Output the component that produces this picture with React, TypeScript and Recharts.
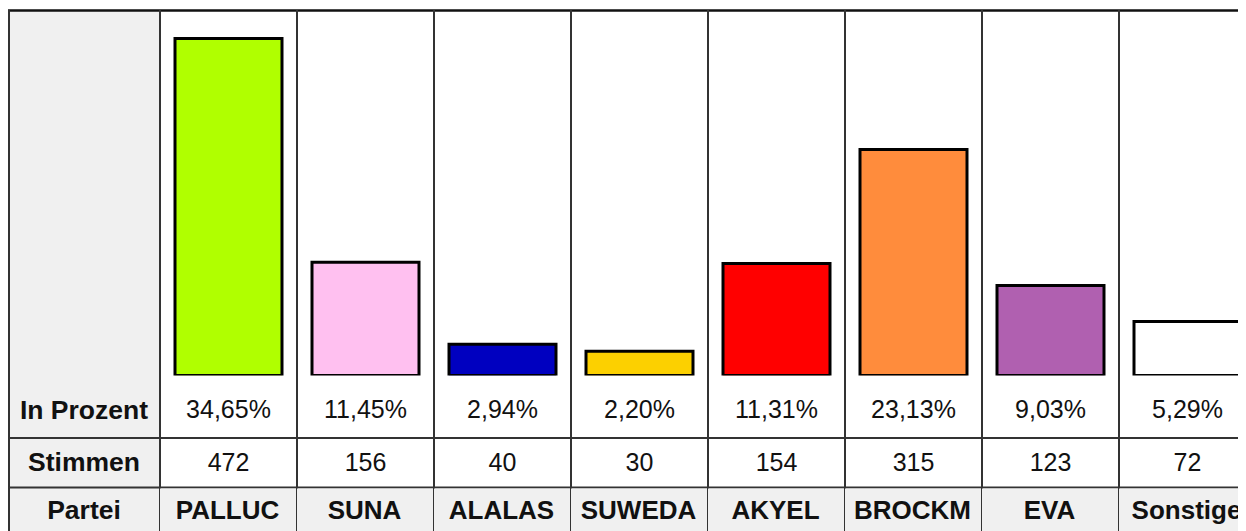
import React from 'react'
import { Bar, BarChart, Cell, Customized, XAxis, YAxis } from 'recharts'

const parties = ['PALLUC', 'SUNA', 'ALALAS', 'SUWEDA', 'AKYEL', 'BROCKM', 'EVA', 'Sonstige']
const percents = [34.65, 11.45, 2.94, 2.2, 11.31, 23.13, 9.03, 5.29]
const percentLabels = ['34,65%', '11,45%', '2,94%', '2,20%', '11,31%', '23,13%', '9,03%', '5,29%']
const votes = [472, 156, 40, 30, 154, 315, 123, 72]
const colors = ['#b0ff00', '#ffc0f0', '#0000c0', '#fcd000', '#ff0000', '#ff8c3c', '#b060b0', '#ffffff']
const rowLabels = ['In Prozent', 'Stimmen', 'Partei']

// bars start a little below zero so their outline sits on the row line
const BASE = -0.314

const data = parties.map((name, i) => ({
  name,
  pct: percents[i],
  label: percentLabels[i],
  votes: votes[i],
}))

const W = 1250
const H = 540
const LEFT = 152
const COL = 137
const AXIS_H = 10
const PLOT_TOP = 18.5
const PLOT_BOTTOM = 367.5
const LINE = '#333'
const GRAY = '#f0f0f0'
const FONT = 'Arial, "Liberation Sans", sans-serif'

const ColumnTick = (props: any) => {
  const { x, payload } = props
  const d = data[payload.index]
  const x0 = x - COL / 2
  const x1 = x + COL / 2
  return (
    <g>
      <rect x={x0} y={480.5} width={COL} height={H - 480} fill={GRAY} />
      <line x1={x1} y1={2} x2={x1} y2={H} stroke={LINE} strokeWidth={2} />
      <text x={x} y={410} textAnchor="middle" fontFamily={FONT} fontSize={25} fill="#111">
        {d.label}
      </text>
      <text x={x} y={463} textAnchor="middle" fontFamily={FONT} fontSize={25} fill="#111">
        {d.votes}
      </text>
      <text x={x - 1} y={511} textAnchor="middle" fontFamily={FONT} fontSize={26} fontWeight="bold" fill="#111">
        {d.name}
      </text>
    </g>
  )
}

const TableFrame = () => (
  <g>
    <rect x={1} y={2} width={LEFT - 1} height={H} fill={GRAY} />
    <line x1={0} y1={2.5} x2={W} y2={2.5} stroke="#111" strokeWidth={2.5} />
    <line x1={1} y1={2} x2={1} y2={H} stroke={LINE} strokeWidth={2} />
    <line x1={LEFT} y1={2} x2={LEFT} y2={H} stroke={LINE} strokeWidth={2} />
    <line x1={0} y1={430} x2={W} y2={430} stroke={LINE} strokeWidth={2} />
    <line x1={0} y1={479.5} x2={W} y2={479.5} stroke={LINE} strokeWidth={2} />
    {rowLabels.map((t, i) => (
      <text key={t} x={LEFT / 2} y={[411, 463, 511][i]} textAnchor="middle" fontFamily={FONT}
        fontSize={26.5} fontWeight="bold" fill="#111">
        {t}
      </text>
    ))}
  </g>
)

export default function App() {
  return (
    <div style={{ width: 1238, height: 523, overflow: 'hidden' }}>
      <BarChart
        width={W}
        height={H}
        data={data}
        margin={{
          top: PLOT_TOP,
          right: W - LEFT - COL * parties.length,
          bottom: H - PLOT_BOTTOM - AXIS_H,
          left: LEFT,
        }}
        barCategoryGap={15}
      >
        <Customized component={TableFrame} />
        <XAxis dataKey="name" axisLine={false} tickLine={false} tick={<ColumnTick />} interval={0} height={AXIS_H} />
        <YAxis hide domain={[BASE, 35.9]} allowDataOverflow />
        <Bar dataKey={(d: any) => [BASE, d.pct]} stroke="#000" strokeWidth={3} isAnimationActive={false}>
          {data.map((d, i) => (
            <Cell key={d.name} fill={colors[i]} />
          ))}
        </Bar>
      </BarChart>
    </div>
  )
}
